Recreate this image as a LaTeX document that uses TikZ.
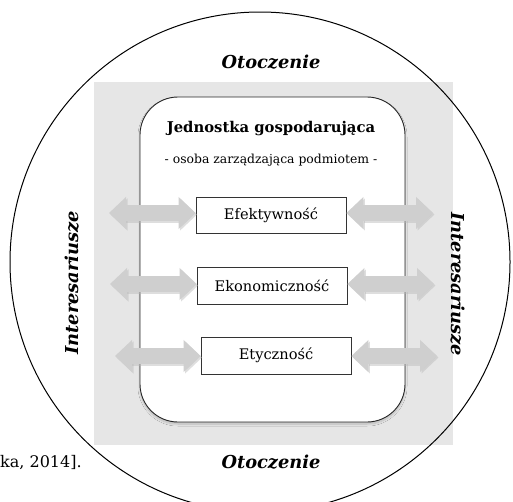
\documentclass[tikz,border=0pt]{standalone}
\usepackage{fontspec}
\setmainfont{DejaVu Serif}
\usetikzlibrary{arrows.meta,shadows.blur}
\definecolor{panelgray}{HTML}{E6E6E6}
\definecolor{arrowgray}{HTML}{CFCFCF}
\definecolor{arrowshade}{HTML}{B8B8B8}
\tikzset{
  valuebox/.style={draw=black!80, line width=0.8pt, fill=white, minimum width=150pt, minimum height=37pt, font=\fontsize{14.6}{16}\selectfont, inner sep=0pt},
  flow/.style={line width=16pt, draw=arrowgray, {Triangle[width=31pt,length=17pt]}-{Triangle[width=31pt,length=17pt]}},
  flowshade/.style={line width=16pt, draw=arrowshade, opacity=0.45, {Triangle[width=31pt,length=17pt]}-{Triangle[width=31pt,length=17pt]}},
  envlabel/.style={font=\bfseries\itshape\fontsize{17.8}{20}\selectfont, inner sep=0pt},
}
\begin{document}
\begin{tikzpicture}[x=1pt,y=-1pt]
\useasboundingbox (0,0) rectangle (513,501);
\begin{scope}
\clip (0,0) rectangle (513,501);
% grey field of the organisation
\fill[panelgray] (94,82) rectangle (453,445);
% environment circle
\draw[line width=1pt] (260,262) circle[radius=250];
\end{scope}

% the entity itself
\node[draw=black!85, line width=0.9pt, fill=white, rounded corners=38pt, minimum width=265pt, minimum height=325pt,
      blur shadow={shadow xshift=0pt, shadow yshift=-2pt, shadow blur radius=2pt, shadow blur steps=12, shadow opacity=20}]
  (entity) at (272.5,259.5) {};
\node[font=\bfseries\fontsize{14.8}{17}\selectfont, inner sep=0pt] (title) at (271,129) {Jednostka gospodarująca};
\node[font=\fontsize{12.4}{14}\selectfont, inner sep=0pt] (subtitle) at (271,160) {- osoba zarządzająca podmiotem -};

% values
\node[valuebox, minimum height=36pt] (eff) at (271,215) {Efektywność};
\node[valuebox] (eko) at (272,285.5) {Ekonomiczność};
\node[valuebox] (ety) at (276,355.5) {Etyczność};

% free ends of the exchange arrows
\coordinate (effL) at (109,213);
\coordinate (effR) at (433,213);
\coordinate (ekoL) at (110,284);
\coordinate (ekoR) at (434,284);
\coordinate (etyL) at (115,356);
\coordinate (etyR) at (437,356);

\foreach \b in {eff,eko,ety}{
  \draw[flowshade] ([shift={(1.5,1.5)}]\b L) -- ([shift={(1.5,1.5)}]\b.west |- \b L);
  \draw[flowshade] ([shift={(1.5,1.5)}]\b.east |- \b R) -- ([shift={(1.5,1.5)}]\b R);
  \draw[flow] (\b L) -- (\b.west |- \b L);
  \draw[flow] (\b.east |- \b R) -- (\b R);
}

% labels
\node[envlabel] (envtop) at (271,62) {Otoczenie};
\node[envlabel] (envbot) at (271,462) {Otoczenie};
\node[envlabel, rotate=90] (stakeL) at (72,283) {Interesariusze};
\node[envlabel, rotate=-90] (stakeR) at (458,284) {Interesariusze};
\node[anchor=west, font=\fontsize{16}{18}\selectfont, inner sep=0pt] (source) at (0,463) {ka, 2014].};
\end{tikzpicture}
\end{document}
